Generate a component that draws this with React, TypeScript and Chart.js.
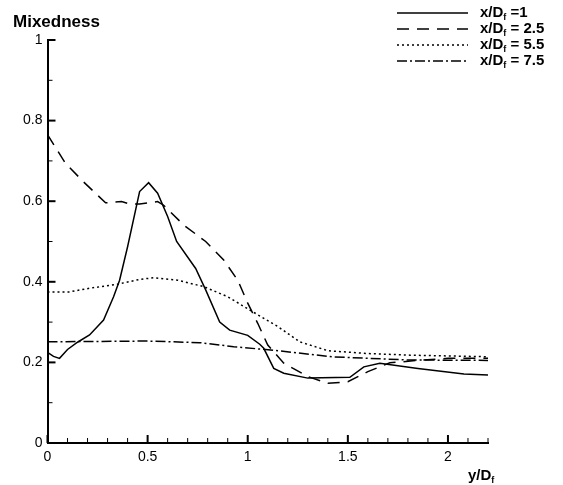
import React, { useEffect, useRef } from "react";
import { Chart, registerables } from "chart.js";

Chart.register(...registerables);

// ---- data ----
const xD1 = [0, 0.03, 0.06, 0.1, 0.15, 0.21, 0.28, 0.33, 0.36, 0.4, 0.46, 0.505, 0.55, 0.6, 0.645, 0.74, 0.79, 0.86, 0.91, 1.0, 1.06, 1.08, 1.13, 1.18, 1.3, 1.51, 1.58, 1.66, 1.85, 2.08, 2.2];
const yD1 = [0.225, 0.215, 0.21, 0.232, 0.25, 0.268, 0.305, 0.363, 0.404, 0.487, 0.624, 0.646, 0.62, 0.562, 0.5, 0.433, 0.38, 0.3, 0.28, 0.267, 0.245, 0.235, 0.185, 0.173, 0.161, 0.163, 0.189, 0.198, 0.185, 0.171, 0.169];

const xD25 = [0, 0.09, 0.18, 0.29, 0.37, 0.41, 0.46, 0.55, 0.58, 0.68, 0.79, 0.88, 0.95, 1.0, 1.05, 1.1, 1.18, 1.3, 1.4, 1.5, 1.6, 1.71, 1.85, 2.0, 2.2];
const yD25 = [0.765, 0.694, 0.648, 0.596, 0.599, 0.593, 0.593, 0.599, 0.59, 0.541, 0.5, 0.454, 0.404, 0.347, 0.297, 0.243, 0.198, 0.165, 0.148, 0.152, 0.177, 0.199, 0.205, 0.21, 0.21];

const xD55 = [0, 0.11, 0.21, 0.35, 0.46, 0.53, 0.65, 0.78, 0.9, 1.01, 1.15, 1.26, 1.4, 1.6, 1.81, 2.0, 2.2];
const yD55 = [0.375, 0.375, 0.384, 0.394, 0.406, 0.41, 0.404, 0.388, 0.363, 0.33, 0.289, 0.251, 0.229, 0.222, 0.218, 0.216, 0.214];

const xD75 = [0, 0.25, 0.5, 0.76, 0.93, 1.13, 1.42, 1.8, 2.2];
const yD75 = [0.251, 0.252, 0.253, 0.249, 0.239, 0.23, 0.214, 0.206, 0.205];

const seriesNames = ["1", "2.5", "5.5", "7.5"];
const seriesPrefix = [" =", " = ", " = ", " = "];

const xMajorTicks = [0, 0.5, 1, 1.5, 2];
const xMinorTicks = [0.1, 0.2, 0.3, 0.4, 0.6, 0.7, 0.8, 0.9, 1.1, 1.2, 1.3, 1.4, 1.6, 1.7, 1.8, 1.9, 2.1, 2.2];
const yMajorTicks = [0, 0.2, 0.4, 0.6, 0.8, 1];
const yMinorTicks = [0.1, 0.3, 0.5, 0.7, 0.9];

const FONT = '"Liberation Sans", Arial, Helvetica, sans-serif';
const dashes = [[], [12, 8], [2, 3], [10, 3, 2, 3]];

const zip = (xs: number[], ys: number[]) => xs.map((x, i) => ({ x, y: ys[i] }));

const decorPlugin = {
  id: "decor",
  afterDraw(chart: any) {
    const ctx = chart.ctx as CanvasRenderingContext2D;
    const xs = chart.scales.x;
    const ys = chart.scales.y;
    const area = chart.chartArea;
    ctx.save();
    ctx.strokeStyle = "#000";
    ctx.fillStyle = "#000";
    ctx.setLineDash([]);
    const tick = (x1: number, y1: number, x2: number, y2: number, w: number) => {
      ctx.lineWidth = w;
      ctx.beginPath();
      ctx.moveTo(x1, y1);
      ctx.lineTo(x2, y2);
      ctx.stroke();
    };
    xMajorTicks.forEach((v) => {
      const p = xs.getPixelForValue(v);
      tick(p, area.bottom, p, area.bottom - 8, 2);
    });
    xMinorTicks.forEach((v) => {
      const p = xs.getPixelForValue(v);
      tick(p, area.bottom, p, area.bottom - 5, 1);
    });
    yMajorTicks.forEach((v) => {
      const p = ys.getPixelForValue(v);
      tick(area.left, p, area.left + 8, p, 2);
    });
    yMinorTicks.forEach((v) => {
      const p = ys.getPixelForValue(v);
      tick(area.left, p, area.left + 5, p, 1);
    });

    // axis titles
    ctx.textBaseline = "alphabetic";
    ctx.textAlign = "left";
    ctx.font = `bold 17px ${FONT}`;
    ctx.fillText("Mixedness", 13, 27);

    const drawSub = (x: number, y: number, main: string, sub: string, rest: string, size: number) => {
      ctx.font = `bold ${size}px ${FONT}`;
      ctx.fillText(main, x, y);
      let cx = x + ctx.measureText(main).width;
      ctx.font = `bold ${Math.round(size * 0.62)}px ${FONT}`;
      ctx.fillText(sub, cx, y + 3);
      cx += ctx.measureText(sub).width;
      ctx.font = `bold ${size}px ${FONT}`;
      ctx.fillText(rest, cx, y);
    };
    drawSub(468, 480, "y/D", "f", "", 15);

    // legend
    const rowY = [13, 29, 45, 61];
    seriesNames.forEach((name, i) => {
      const y = rowY[i];
      ctx.lineWidth = 1.5;
      ctx.setLineDash(dashes[i]);
      ctx.beginPath();
      ctx.moveTo(397, y);
      ctx.lineTo(468, y);
      ctx.stroke();
      ctx.setLineDash([]);
      drawSub(480, y + 4, "x/D", "f", seriesPrefix[i] + name, 15);
    });
    ctx.restore();
  },
};

export default function App() {
  const ref = useRef<HTMLCanvasElement | null>(null);
  useEffect(() => {
    if (!ref.current) return;
    const sets = [zip(xD1, yD1), zip(xD25, yD25), zip(xD55, yD55), zip(xD75, yD75)];
    const chart = new Chart(ref.current, {
      type: "line",
      data: {
        datasets: sets.map((d, i) => ({
          label: "x/Df = " + seriesNames[i],
          data: d,
          borderColor: "#000",
          backgroundColor: "#000",
          borderWidth: 1.5,
          borderDash: dashes[i],
          pointRadius: 0,
          tension: 0,
          fill: false,
        })),
      },
      options: {
        animation: false,
        responsive: false,
        maintainAspectRatio: false,
        events: [],
        layout: { padding: { left: 0, right: 75, top: 40, bottom: 0 } },
        plugins: { legend: { display: false }, tooltip: { enabled: false }, title: { display: false } },
        scales: {
          x: {
            type: "linear",
            min: 0,
            max: 2.2,
            grid: { display: false, drawTicks: false },
            border: { display: true, color: "#000", width: 2 },
            afterBuildTicks: (s: any) => {
              s.ticks = xMajorTicks.map((v) => ({ value: v }));
            },
            afterFit: (s: any) => {
              s.height = 42;
            },
            ticks: {
              color: "#000",
              font: { family: FONT, size: 14 },
              padding: 6,
              maxRotation: 0,
              autoSkip: false,
              callback: (v: any) => String(v),
            },
          },
          y: {
            type: "linear",
            min: 0,
            max: 1,
            grid: { display: false, drawTicks: false },
            border: { display: true, color: "#000", width: 2 },
            afterBuildTicks: (s: any) => {
              s.ticks = yMajorTicks.map((v) => ({ value: v }));
            },
            afterFit: (s: any) => {
              s.width = 47.5;
            },
            ticks: {
              color: "#000",
              font: { family: FONT, size: 14 },
              padding: 5,
              autoSkip: false,
              callback: (v: any) => String(v),
            },
          },
        },
      },
      plugins: [decorPlugin],
    });
    return () => chart.destroy();
  }, []);
  return (
    <div style={{ position: "fixed", left: 0, top: 0, width: 563, height: 485, background: "#fff" }}>
      <canvas ref={ref} width={563} height={485} style={{ width: 563, height: 485, display: "block" }} />
    </div>
  );
}
